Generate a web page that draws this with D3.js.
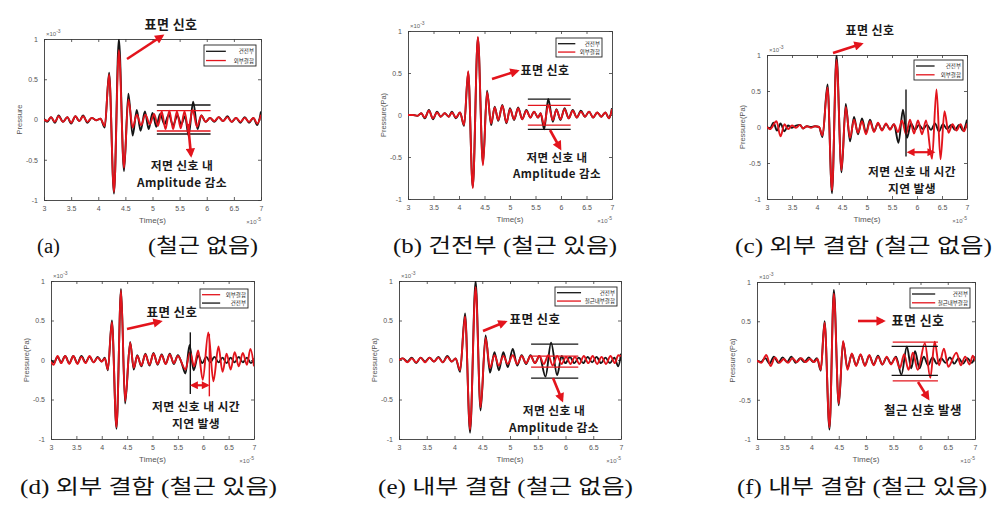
<!DOCTYPE html>
<html><head><meta charset="utf-8">
<script src="https://cdn.jsdelivr.net/npm/d3@7"></script>
<style>body{margin:0;background:#fff}</style>
</head><body>
<svg id="fig" width="1008" height="516"></svg>
<script>
// ---------- data: [time (x1e-5 s), pressure (x1e-3)] extrema points ----------
const xTicks = [3, 3.5, 4, 4.5, 5, 5.5, 6, 6.5, 7];
const yTicks = [-1, -0.5, 0, 0.5, 1];

const aBlack = [[3.0,0.01],[3.06,-0.03],[3.13,0.03],[3.2,-0.04],[3.27,0.05],[3.35,-0.03],[3.43,0.03],[3.5,-0.05],[3.58,0.04],[3.65,-0.02],[3.72,0.05],[3.8,-0.04],[3.88,0.02],[3.96,-0.01],[4.04,0.01],[4.12,-0.1],[4.2,0.58],[4.29,-0.92],[4.38,1.0],[4.475,-0.64],[4.555,0.32],[4.635,-0.2],[4.71,0.12],[4.78,-0.14],[4.86,0.1],[4.93,-0.12],[5.0,0.08],[5.07,-0.09],[5.14,0.07],[5.22,-0.06],[5.3,0.06],[5.38,-0.07],[5.46,0.05],[5.53,-0.06],[5.6,0.04],[5.665,-0.2],[5.75,0.22],[5.83,-0.12],[5.9,0.05],[5.98,-0.03],[6.06,0.02],[6.14,-0.03],[6.22,0.03],[6.3,-0.02],[6.38,0.04],[6.46,-0.03],[6.54,0.02],[6.62,-0.04],[6.7,0.03],[6.78,-0.04],[6.86,0.02],[6.93,-0.07],[7.0,0.1]];
const aRed = [[3.0,0.0],[3.06,-0.02],[3.13,0.03],[3.2,-0.03],[3.27,0.04],[3.35,-0.03],[3.43,0.03],[3.5,-0.04],[3.58,0.04],[3.65,-0.02],[3.72,0.04],[3.8,-0.03],[3.88,0.02],[3.96,-0.01],[4.04,0.01],[4.12,-0.08],[4.2,0.56],[4.29,-0.9],[4.38,0.86],[4.475,-0.6],[4.555,0.25],[4.635,-0.1],[4.71,0.06],[4.79,-0.07],[4.87,0.06],[4.95,-0.06],[5.03,0.07],[5.1,-0.08],[5.17,0.1],[5.24,-0.12],[5.31,0.11],[5.38,-0.12],[5.45,0.1],[5.52,-0.11],[5.59,0.1],[5.66,-0.12],[5.74,0.12],[5.82,-0.09],[5.9,0.05],[5.98,-0.03],[6.06,0.02],[6.14,-0.02],[6.22,0.03],[6.3,-0.02],[6.38,0.03],[6.46,-0.03],[6.54,0.02],[6.62,-0.03],[6.7,0.02],[6.78,-0.03],[6.86,0.02],[6.93,-0.05],[7.0,0.06]];

const bBlack = [[3.0,0],[3.1,0.0],[3.18,-0.01],[3.26,0.02],[3.33,-0.04],[3.41,0.06],[3.49,-0.05],[3.57,0.04],[3.64,-0.02],[3.72,0.02],[3.8,-0.02],[3.86,0.04],[3.94,-0.04],[4.02,0.03],[4.1,-0.13],[4.18,0.51],[4.27,-0.86],[4.37,0.92],[4.47,-0.58],[4.55,0.29],[4.63,-0.12],[4.7,0.1],[4.77,-0.07],[4.85,0.12],[4.93,-0.1],[5.0,0.08],[5.08,-0.06],[5.16,0.09],[5.24,-0.05],[5.32,0.06],[5.4,-0.03],[5.47,0.04],[5.55,-0.03],[5.6,0.02],[5.67,-0.17],[5.75,0.19],[5.84,-0.08],[5.91,0.07],[5.99,-0.06],[6.07,0.08],[6.15,-0.04],[6.23,0.06],[6.31,-0.03],[6.39,0.05],[6.47,-0.02],[6.55,0.04],[6.63,-0.03],[6.71,0.03],[6.79,-0.02],[6.87,0.03],[6.94,-0.04],[7.0,0.08]];
const bRed = [[3.0,0],[3.1,0.0],[3.18,-0.01],[3.26,0.02],[3.33,-0.03],[3.41,0.05],[3.49,-0.04],[3.57,0.03],[3.64,-0.02],[3.72,0.02],[3.8,-0.02],[3.86,0.03],[3.94,-0.03],[4.02,0.03],[4.1,-0.12],[4.18,0.52],[4.27,-0.87],[4.37,0.93],[4.47,-0.6],[4.55,0.27],[4.63,-0.1],[4.7,0.09],[4.77,-0.06],[4.85,0.11],[4.93,-0.09],[5.0,0.07],[5.08,-0.05],[5.16,0.08],[5.24,-0.05],[5.32,0.05],[5.4,-0.03],[5.47,0.04],[5.55,-0.03],[5.6,0.02],[5.67,-0.12],[5.75,0.12],[5.84,-0.06],[5.91,0.06],[5.99,-0.05],[6.07,0.07],[6.15,-0.04],[6.23,0.05],[6.31,-0.03],[6.39,0.04],[6.47,-0.02],[6.55,0.04],[6.63,-0.03],[6.71,0.03],[6.79,-0.02],[6.87,0.03],[6.94,-0.04],[7.0,0.07]];

const cBlack = [[3.0,0],[3.06,-0.02],[3.13,0.06],[3.2,-0.05],[3.27,0.05],[3.35,-0.06],[3.42,0.02],[3.5,-0.01],[3.58,0.02],[3.66,0.03],[3.72,-0.02],[3.8,0.01],[3.88,0.0],[3.96,0.01],[4.04,0.0],[4.11,-0.14],[4.21,0.59],[4.3,-0.92],[4.39,1.0],[4.49,-0.63],[4.575,0.32],[4.66,-0.2],[4.74,0.14],[4.82,-0.1],[4.9,0.12],[4.98,-0.08],[5.06,0.1],[5.14,-0.06],[5.22,0.05],[5.3,-0.04],[5.38,0.04],[5.46,-0.03],[5.54,0.04],[5.63,-0.22],[5.72,0.24],[5.8,-0.15],[5.88,0.05],[5.96,-0.04],[6.04,0.03],[6.12,-0.03],[6.2,0.03],[6.28,-0.04],[6.36,0.05],[6.44,-0.06],[6.52,0.04],[6.6,-0.03],[6.68,0.03],[6.76,-0.04],[6.84,0.03],[6.92,-0.05],[7.0,0.1]];
const cRed = [[3.0,0],[3.06,-0.03],[3.19,0.08],[3.27,-0.13],[3.35,0.04],[3.42,-0.03],[3.5,0.02],[3.58,-0.01],[3.66,0.03],[3.72,-0.02],[3.8,0.01],[3.88,-0.01],[3.96,0.01],[4.04,0.0],[4.11,-0.12],[4.21,0.55],[4.3,-0.88],[4.39,0.93],[4.49,-0.6],[4.575,0.28],[4.66,-0.15],[4.74,0.1],[4.82,-0.08],[4.9,0.08],[4.98,-0.1],[5.06,0.08],[5.14,-0.07],[5.22,0.06],[5.3,-0.05],[5.38,0.05],[5.46,-0.04],[5.54,0.04],[5.62,-0.07],[5.7,0.09],[5.78,-0.1],[5.86,0.1],[5.94,-0.09],[6.02,0.09],[6.1,-0.1],[6.18,0.09],[6.3,-0.44],[6.39,0.52],[6.47,-0.45],[6.55,0.22],[6.63,-0.08],[6.71,0.04],[6.79,-0.05],[6.87,0.04],[6.94,-0.06],[7.0,0.05]];

const dBlack = [[3.0,0],[3.06,-0.03],[3.13,0.04],[3.2,-0.03],[3.28,0.05],[3.36,-0.04],[3.44,0.05],[3.52,-0.04],[3.6,0.05],[3.68,-0.03],[3.76,0.04],[3.84,-0.03],[3.92,0.04],[4.0,-0.02],[4.06,0.03],[4.12,-0.13],[4.2,0.5],[4.29,-0.87],[4.38,0.9],[4.46,-0.55],[4.56,0.23],[4.63,-0.12],[4.7,0.06],[4.78,-0.08],[4.86,0.08],[4.94,-0.07],[5.02,0.09],[5.1,-0.06],[5.18,0.07],[5.26,-0.05],[5.34,0.08],[5.42,-0.05],[5.5,0.06],[5.57,-0.03],[5.65,-0.17],[5.73,0.19],[5.81,-0.13],[5.9,0.06],[5.98,-0.04],[6.06,0.04],[6.14,-0.03],[6.22,0.04],[6.3,-0.03],[6.38,0.03],[6.46,-0.04],[6.54,0.03],[6.62,-0.03],[6.7,0.04],[6.78,-0.03],[6.86,0.03],[6.94,-0.04],[7.0,0.02]];
const dRed = [[3.0,-0.02],[3.05,-0.06],[3.13,0.05],[3.2,-0.04],[3.28,0.05],[3.36,-0.05],[3.44,0.05],[3.52,-0.05],[3.6,0.04],[3.68,-0.04],[3.76,0.05],[3.84,-0.03],[3.92,0.03],[4.0,-0.02],[4.06,0.02],[4.12,-0.12],[4.2,0.48],[4.29,-0.85],[4.38,0.88],[4.46,-0.52],[4.56,0.22],[4.63,-0.1],[4.7,0.05],[4.78,-0.07],[4.86,0.07],[4.94,-0.06],[5.02,0.08],[5.1,-0.05],[5.18,0.06],[5.26,-0.05],[5.34,0.07],[5.42,-0.04],[5.5,0.05],[5.65,-0.12],[5.74,0.1],[5.82,-0.08],[5.9,0.12],[5.99,-0.25],[6.1,0.35],[6.2,-0.27],[6.3,0.17],[6.38,-0.15],[6.46,0.08],[6.54,-0.12],[6.62,0.1],[6.7,-0.08],[6.78,0.09],[6.86,-0.06],[6.93,0.14],[7.0,-0.08]];

const eBlack = [[3.0,0],[3.07,0.02],[3.15,-0.02],[3.23,0.03],[3.31,-0.04],[3.39,0.03],[3.47,-0.02],[3.55,0.03],[3.63,-0.02],[3.71,0.04],[3.79,-0.03],[3.87,0.05],[3.95,-0.02],[4.02,0.02],[4.1,-0.15],[4.19,0.59],[4.28,-0.92],[4.38,1.0],[4.47,-0.64],[4.56,0.31],[4.64,-0.16],[4.72,0.1],[4.8,-0.13],[4.88,0.1],[4.96,-0.09],[5.05,0.14],[5.13,-0.07],[5.21,0.06],[5.29,-0.05],[5.37,0.06],[5.45,-0.04],[5.53,0.05],[5.64,-0.21],[5.74,0.22],[5.85,-0.19],[5.93,0.05],[6.0,-0.04],[6.08,0.04],[6.16,-0.04],[6.24,0.03],[6.32,-0.04],[6.4,0.04],[6.48,-0.03],[6.56,0.04],[6.64,-0.04],[6.72,0.03],[6.8,-0.04],[6.88,0.03],[6.95,-0.08],[7.0,0.08]];
const eRed = [[3.0,0],[3.07,0.02],[3.15,-0.03],[3.23,0.02],[3.31,-0.03],[3.39,0.03],[3.47,-0.03],[3.55,0.03],[3.63,-0.02],[3.71,0.03],[3.79,-0.03],[3.87,0.04],[3.95,-0.02],[4.02,0.02],[4.1,-0.13],[4.19,0.55],[4.28,-0.88],[4.38,0.92],[4.47,-0.6],[4.56,0.28],[4.64,-0.1],[4.72,0.06],[4.8,-0.07],[4.88,0.05],[4.96,-0.05],[5.05,0.06],[5.13,-0.05],[5.21,0.05],[5.29,-0.04],[5.37,0.05],[5.45,-0.04],[5.53,0.05],[5.61,-0.05],[5.69,0.06],[5.77,-0.07],[5.85,0.05],[5.93,-0.05],[6.01,0.04],[6.09,-0.05],[6.17,0.04],[6.25,-0.05],[6.33,0.05],[6.41,-0.04],[6.49,0.05],[6.57,-0.05],[6.65,0.04],[6.73,-0.05],[6.81,0.05],[6.89,-0.04],[6.95,0.06],[7.0,0.05]];

const fBlack = [[3.0,0],[3.07,-0.02],[3.15,0.03],[3.23,-0.04],[3.31,0.05],[3.39,-0.03],[3.47,0.04],[3.55,-0.02],[3.63,0.05],[3.71,-0.03],[3.79,0.03],[3.87,-0.02],[3.95,0.04],[4.03,-0.02],[4.1,0.03],[4.17,-0.13],[4.24,0.5],[4.33,-0.88],[4.41,0.9],[4.5,-0.57],[4.58,0.24],[4.66,-0.1],[4.74,0.08],[4.82,-0.06],[4.9,0.07],[4.98,-0.06],[5.06,0.06],[5.14,-0.05],[5.22,0.06],[5.3,-0.05],[5.38,0.04],[5.46,-0.04],[5.55,0.05],[5.65,-0.18],[5.75,0.18],[5.83,-0.1],[5.9,0.12],[5.98,-0.1],[6.06,0.05],[6.14,-0.06],[6.22,0.04],[6.3,-0.04],[6.38,0.03],[6.46,-0.03],[6.54,0.04],[6.62,-0.04],[6.7,0.03],[6.78,-0.04],[6.86,0.03],[6.94,-0.03],[7.0,0.05]];
const fRed = [[3.0,0.0],[3.08,-0.03],[3.17,0.07],[3.25,-0.07],[3.33,0.04],[3.41,-0.03],[3.49,0.02],[3.57,-0.03],[3.65,0.03],[3.73,-0.02],[3.81,0.03],[3.89,-0.02],[3.97,0.02],[4.05,-0.02],[4.11,0.02],[4.17,-0.12],[4.24,0.48],[4.33,-0.85],[4.41,0.85],[4.5,-0.55],[4.58,0.25],[4.66,-0.12],[4.74,0.09],[4.82,-0.07],[4.9,0.08],[4.98,-0.07],[5.06,0.07],[5.14,-0.06],[5.22,0.05],[5.3,-0.05],[5.38,0.05],[5.46,-0.05],[5.54,0.04],[5.62,-0.1],[5.7,0.08],[5.78,-0.12],[5.86,0.1],[5.95,-0.12],[6.08,0.22],[6.18,-0.22],[6.26,0.24],[6.34,-0.06],[6.43,0.15],[6.51,-0.08],[6.66,0.1],[6.74,-0.06],[6.82,0.05],[6.9,-0.05],[6.96,0.06],[7.0,0.0]];

// ---------- layout / styling ----------
const RED = '#e3141c', BLK = '#151515';
const SANS = "'Noto Sans CJK KR','Noto Sans',sans-serif";
const panels = [
  {L:44,R:261,T:39,B:200, ylab:'Pressure', series:[[aBlack,BLK],[aRed,RED]],
   legend:{x:204,y:45,w:52,h:21,items:[['건전부',BLK],['외부결함',RED]]},
   refs:[[5.08,6.07,0.18,BLK],[5.08,6.07,-0.18,BLK],[5.08,6.07,0.11,RED],[5.08,6.07,-0.143,RED]],
   vlines:[], dbl:[],
   texts:[[171,29,13,['표면 신호']],[182,169.5,11.8,['저면 신호 내','Amplitude 감소']]],
   arrows:[[127,59,162,36],[188,124,191,155]]},
  {L:408,R:612,T:31,B:199, ylab:'Pressure(Pa)', series:[[bBlack,BLK],[bRed,RED]],
   legend:{x:556,y:38,w:46,h:19,items:[['건전부',BLK],['외부결함',RED]]},
   refs:[[5.35,6.19,0.19,BLK],[5.35,6.19,-0.17,BLK],[5.35,6.19,0.115,RED],[5.35,6.19,-0.12,RED]],
   vlines:[], dbl:[],
   texts:[[545,74.5,12,['표면 신호']],[557,161.5,11.5,['저면 신호 내','Amplitude 감소']]],
   arrows:[[492,79,517,71],[550,130,560,148]]},
  {L:767,R:967,T:55,B:199, ylab:'Pressure(Pa)', series:[[cBlack,BLK],[cRed,RED]],
   legend:{x:914,y:60,w:49,h:20,items:[['건전부',BLK],['외부결함',RED]]},
   refs:[], vlines:[[5.78,0.52,-0.41,BLK]], dbl:[[5.8,6.36,-0.35]],
   texts:[[870,34.5,12,['표면 신호']],[912,175.5,11.8,['저면 신호 내 시간','지연 발생']]],
   arrows:[[833,53,861,44]]},
  {L:51,R:254,T:281,B:439, ylab:'Pressure(Pa)', series:[[dBlack,BLK],[dRed,RED]],
   legend:{x:200,y:289,w:48,h:19,items:[['외부결함',RED],['건전부',BLK]]},
   refs:[], vlines:[[5.745,0.35,-0.43,BLK],[6.12,0.33,-0.46,RED]], dbl:[[5.745,6.12,-0.32]],
   texts:[[172,316.5,12.5,['표면 신호']],[196,410.5,11.8,['저면 신호 내 시간','지연 발생']]],
   arrows:[[127,329,160,321.5]]},
  {L:399,R:621,T:281,B:439, ylab:'Pressure(Pa)', series:[[eBlack,BLK],[eRed,RED]],
   legend:{x:555,y:287,w:62,h:19,items:[['건전부',BLK],['철근내부결함',RED]]},
   refs:[[5.38,6.23,0.2,BLK],[5.38,6.23,-0.23,BLK],[5.38,6.23,0.05,RED],[5.38,6.23,-0.09,RED]],
   vlines:[], dbl:[],
   texts:[[535,323.5,12.5,['표면 신호']],[554,414.5,11.8,['저면 신호 내','Amplitude 감소']]],
   arrows:[[483,331,505,322],[553,378,562,400]]},
  {L:757,R:975,T:282,B:439, ylab:'Pressure(Pa)', series:[[fBlack,BLK],[fRed,RED]],
   legend:{x:910,y:288,w:60,h:20,items:[['건전부',BLK],['철근내부결함',RED]]},
   refs:[[5.47,6.32,0.18,BLK],[5.47,6.32,-0.19,BLK],[5.49,6.32,0.235,RED],[5.49,6.32,-0.26,RED]],
   vlines:[], dbl:[],
   texts:[[918,324.5,13,['표면 신호']],[923,414.5,12.5,['철근 신호 발생']]],
   arrows:[[858,321,883,321],[918,382,928,398]]}
];
const captions = [
  [37,253,23,'(a)'],[148,253,110,'(철근 없음)'],
  [393,253,224,'(b) 건전부 (철근 있음)'],
  [735,253,257,'(c) 외부 결함 (철근 없음)'],
  [20,494,257,'(d) 외부 결함 (철근 있음)'],
  [378,494,255,'(e) 내부 결함 (철근 없음)'],
  [737,494,250,'(f) 내부 결함 (철근 있음)']
];

const svg = d3.select('#fig');
const defs = svg.append('defs');
defs.append('marker').attr('id','ah').attr('viewBox','0 0 10 10')
  .attr('refX',7).attr('refY',5).attr('markerWidth',4).attr('markerHeight',3.6)
  .attr('orient','auto-start-reverse')
  .append('path').attr('d','M0,0L10,5L0,10z').attr('fill',RED);

panels.forEach((p,i) => {
  const x = d3.scaleLinear().domain([3,7]).range([p.L,p.R]);
  const y = d3.scaleLinear().domain([-1,1]).range([p.B,p.T]);
  const g = svg.append('g');
  defs.append('clipPath').attr('id','clip'+i).append('rect')
    .attr('x',p.L).attr('y',p.T).attr('width',p.R-p.L).attr('height',p.B-p.T);

  const fmt = d => String(d);
  const styleAxis = (sel, labels) => {
    sel.selectAll('path.domain').attr('stroke','#3a3a3a').attr('stroke-width',0.9);
    sel.selectAll('.tick line').attr('stroke','#3a3a3a').attr('stroke-width',0.8);
    sel.selectAll('.tick text').attr('fill','#555').style('font-family',"'Liberation Sans',Arial,sans-serif").style('font-size','7px');
    if(!labels) sel.selectAll('.tick text').remove();
  };
  g.append('g').attr('transform',`translate(0,${p.B})`)
    .call(d3.axisBottom(x).tickValues(xTicks).tickSize(-3).tickSizeOuter(0).tickPadding(6).tickFormat(fmt))
    .call(s=>styleAxis(s,true));
  g.append('g').attr('transform',`translate(0,${p.T})`)
    .call(d3.axisTop(x).tickValues(xTicks).tickSize(-3).tickSizeOuter(0))
    .call(s=>styleAxis(s,false));
  g.append('g').attr('transform',`translate(${p.L},0)`)
    .call(d3.axisLeft(y).tickValues(yTicks).tickSize(-3).tickSizeOuter(0).tickPadding(6).tickFormat(fmt))
    .call(s=>styleAxis(s,true));
  g.append('g').attr('transform',`translate(${p.R},0)`)
    .call(d3.axisRight(y).tickValues(yTicks).tickSize(-3).tickSizeOuter(0))
    .call(s=>styleAxis(s,false));

  // axis labels
  g.append('text').attr('x',(p.L+p.R)/2).attr('y',p.B+23).attr('text-anchor','middle')
    .attr('fill','#555').style('font-family',"'Liberation Sans',Arial,sans-serif").style('font-size','8px').text('Time(s)');
  g.append('text').attr('transform',`translate(${p.L-22},${(p.T+p.B)/2}) rotate(-90)`).attr('text-anchor','middle')
    .attr('fill','#555').style('font-family',"'Liberation Sans',Arial,sans-serif").style('font-size','7.5px').text(p.ylab);
  const expo = (tx,ty,anchor,e) => {
    const t = g.append('text').attr('x',tx).attr('y',ty).attr('text-anchor',anchor)
      .attr('fill','#666').style('font-family',"'Liberation Sans',Arial,sans-serif").style('font-size','6px');
    t.append('tspan').text('×10');
    t.append('tspan').attr('dy',-3).style('font-size','5px').text(e);
  };
  expo(p.L+2,p.T-3,'start','-3');
  expo(p.R,p.B+24,'end','-5');

  // waveforms
  const line = d3.line().x(d=>x(d[0])).y(d=>y(d[1])).curve(d3.curveMonotoneX);
  const lg = g.append('g').attr('clip-path',`url(#clip${i})`);
  p.series.forEach(([data,col]) => {
    lg.append('path').datum(data).attr('d',line).attr('fill','none')
      .attr('stroke',col).attr('stroke-width',1.9).attr('stroke-linejoin','round');
  });

  // reference lines
  p.refs.forEach(([t0,t1,v,col]) => {
    g.append('line').attr('x1',x(t0)).attr('x2',x(t1)).attr('y1',y(v)).attr('y2',y(v))
      .attr('stroke',col).attr('stroke-width',1.3);
  });
  p.vlines.forEach(([t,v0,v1,col]) => {
    g.append('line').attr('x1',x(t)).attr('x2',x(t)).attr('y1',y(v0)).attr('y2',y(v1))
      .attr('stroke',col).attr('stroke-width',1.4);
  });
  p.dbl.forEach(([t0,t1,v]) => {
    g.append('line').attr('x1',x(t0)+2).attr('x2',x(t1)-2).attr('y1',y(v)).attr('y2',y(v))
      .attr('stroke',RED).attr('stroke-width',2.2)
      .attr('marker-start','url(#ah)').attr('marker-end','url(#ah)');
  });

  // legend
  const L = p.legend;
  g.append('rect').attr('x',L.x).attr('y',L.y).attr('width',L.w).attr('height',L.h)
    .attr('fill','#fff').attr('stroke','#222').attr('stroke-width',0.9);
  L.items.forEach(([name,col],k) => {
    const yy = L.y + L.h*(0.3 + 0.44*k);
    g.append('line').attr('x1',L.x+2).attr('x2',L.x+L.w*0.42).attr('y1',yy).attr('y2',yy)
      .attr('stroke',col).attr('stroke-width',1.3);
    g.append('text').attr('x',L.x+L.w-2).attr('y',yy+2).attr('text-anchor','end')
      .attr('fill','#222').style('font-family',SANS).style('font-size','5.5px').text(name);
  });

  // annotations
  p.arrows.forEach(([x1,y1,x2,y2]) => {
    g.append('line').attr('x1',x1).attr('y1',y1).attr('x2',x2).attr('y2',y2)
      .attr('stroke',RED).attr('stroke-width',2.6).attr('marker-end','url(#ah)');
  });
  p.texts.forEach(([tx,ty,fs,lines]) => {
    lines.forEach((s,k) => {
      g.append('text').attr('x',tx).attr('y',ty + k*fs*1.46).attr('text-anchor','middle')
        .attr('fill','#1a1a1a').style('font-family',SANS).style('font-weight','700')
        .style('letter-spacing','0.4px').style('font-size',fs+'px').text(s);
    });
  });
});

captions.forEach(([cx,cy,len,s]) => {
  svg.append('text').attr('x',cx).attr('y',cy).attr('textLength',len).attr('lengthAdjust','spacingAndGlyphs')
    .attr('fill','#111').style('font-family',"'Liberation Serif','Noto Sans CJK KR',serif")
    .style('font-size','20px').text(s);
});
</script>
</body></html>
